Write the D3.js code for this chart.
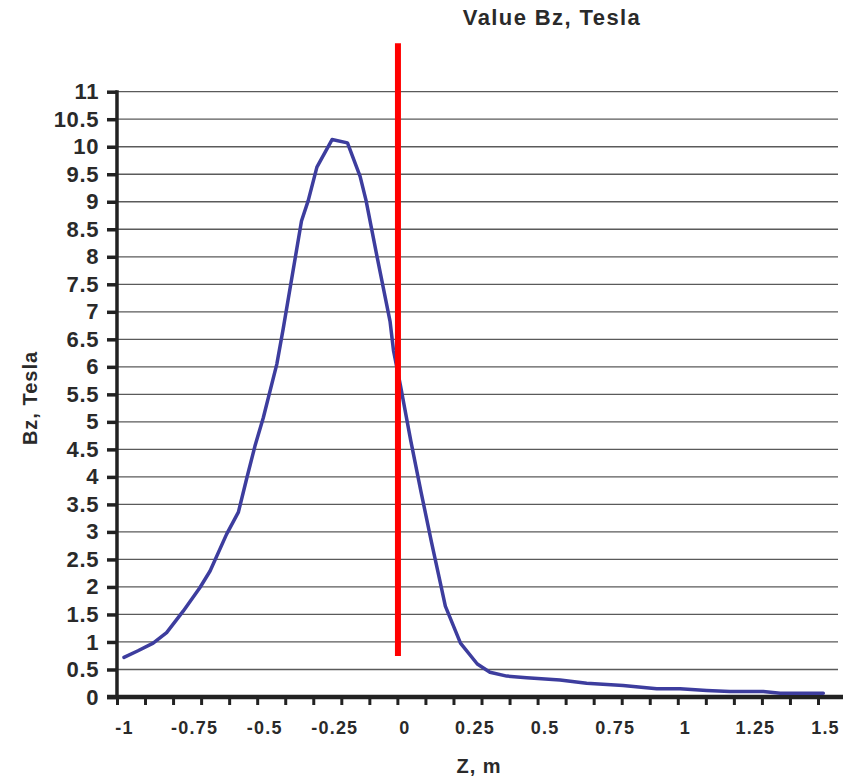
<!DOCTYPE html>
<html>
<head>
<meta charset="utf-8">
<script src="https://cdn.jsdelivr.net/npm/d3@7"></script>
<style>
  html, body { margin: 0; padding: 0; background: #fff; }
  svg { display: block; font-family: "Liberation Sans", Arial, sans-serif; }
</style>
</head>
<body>
<svg id="chart" width="843" height="779"></svg>
<script>
// ---- data ----
const zValues = [-1.0, -0.95, -0.896, -0.848, -0.789, -0.729, -0.693, -0.634, -0.592, -0.562,
  -0.533, -0.503, -0.455, -0.432, -0.367, -0.343, -0.312, -0.258, -0.203, -0.158,
  -0.137, -0.099, -0.051, -0.039, -0.014, 0.023, 0.06, 0.096, 0.127, 0.146,
  0.2, 0.26, 0.305, 0.365, 0.436, 0.555, 0.65, 0.78, 0.9, 0.983,
  1.078, 1.161, 1.28, 1.34, 1.494];
const bzValues = [0.72, 0.84, 0.98, 1.17, 1.56, 1.99, 2.29, 2.96, 3.36, 3.98,
  4.56, 5.08, 6.05, 6.7, 8.65, 9.02, 9.63, 10.13, 10.07, 9.46,
  9.03, 8.04, 6.82, 6.3, 5.66, 4.65, 3.71, 2.83, 2.1, 1.65,
  0.98, 0.6, 0.45, 0.38, 0.35, 0.31, 0.25, 0.21, 0.15, 0.15,
  0.12, 0.10, 0.10, 0.07, 0.07];
const xTickLabels = [-1, -0.75, -0.5, -0.25, 0, 0.25, 0.5, 0.75, 1, 1.25, 1.5];
const xMinorTicks = d3.range(0, 26).map(k => -1.025 + k * 0.1);
const yTickLabels = d3.range(0, 23).map(k => k * 0.5);
const markerZ = -0.023;
const markerRange = [0.745, 11.88];
const titleText = "Value Bz, Tesla";
const xTitle = "Z, m";
const yTitle = "Bz, Tesla";

// ---- scales ----
const svg = d3.select("#chart");
const x = d3.scaleLinear().domain([-1, 1.5]).range([124, 825]);
const y = d3.scaleLinear().domain([0, 11]).range([697, 91.7]);
const axisX0 = x(-1.025);      // 117
const textColor = "#2a2a2a";

// gridlines
svg.append("g").selectAll("line")
  .data(yTickLabels.filter(v => v > 0))
  .join("line")
  .attr("x1", axisX0).attr("x2", 838)
  .attr("y1", d => y(d)).attr("y2", d => y(d))
  .attr("stroke", "#5a5a5a").attr("stroke-width", 1.3);

// y axis
const yAxis = svg.append("g")
  .attr("transform", `translate(${axisX0},0)`)
  .call(d3.axisLeft(y).tickValues(yTickLabels).tickSize(10).tickPadding(8)
        .tickFormat(d => String(d)));
yAxis.select(".domain").remove();
yAxis.selectAll(".tick line").attr("stroke", "#222").attr("stroke-width", 3.5);
yAxis.selectAll(".tick text")
  .attr("fill", textColor)
  .style("font-size", "22px").style("font-weight", "bold")
  .style("letter-spacing", "0.6px");
svg.append("line")
  .attr("x1", axisX0).attr("x2", axisX0)
  .attr("y1", y(11) - 1.5).attr("y2", y(0))
  .attr("stroke", "#222").attr("stroke-width", 3.5);

// x axis minor ticks
const xAxisTicks = svg.append("g")
  .attr("transform", `translate(0,${y(0)})`)
  .call(d3.axisBottom(x).tickValues(xMinorTicks).tickSize(8).tickFormat(""));
xAxisTicks.select(".domain").remove();
xAxisTicks.selectAll(".tick line").attr("stroke", "#222").attr("stroke-width", 3);

// x axis labels
const xAxisLabels = svg.append("g")
  .attr("transform", `translate(0,${y(0)})`)
  .call(d3.axisBottom(x).tickValues(xTickLabels).tickSize(0).tickPadding(24)
        .tickFormat(d => String(d)));
xAxisLabels.select(".domain").remove();
xAxisLabels.selectAll(".tick text")
  .attr("fill", textColor)
  .style("font-size", "18px").style("font-weight", "bold")
  .style("letter-spacing", "1.2px");

svg.append("line")
  .attr("x1", 107).attr("x2", 843)
  .attr("y1", y(0)).attr("y2", y(0))
  .attr("stroke", "#222").attr("stroke-width", 4.5);

// curve
const pts = zValues.map((z, i) => [z, bzValues[i]]);
svg.append("path")
  .datum(pts)
  .attr("fill", "none")
  .attr("stroke", "#3d3d9e")
  .attr("stroke-width", 3.5)
  .attr("stroke-linejoin", "round")
  .attr("stroke-linecap", "round")
  .attr("d", d3.line().x(d => x(d[0])).y(d => y(d[1])));

// red marker line
svg.append("line")
  .attr("x1", x(markerZ)).attr("x2", x(markerZ))
  .attr("y1", y(markerRange[1])).attr("y2", y(markerRange[0]))
  .attr("stroke", "#ff0000").attr("stroke-width", 6);

// titles
svg.append("text")
  .attr("x", 552).attr("y", 25)
  .attr("text-anchor", "middle")
  .attr("fill", textColor)
  .style("font-size", "22px").style("font-weight", "bold")
  .style("letter-spacing", "1.4px")
  .text(titleText);

svg.append("text")
  .attr("x", 479).attr("y", 773)
  .attr("text-anchor", "middle")
  .attr("fill", textColor)
  .style("font-size", "20px").style("font-weight", "bold")
  .style("letter-spacing", "1px")
  .text(xTitle);

svg.append("text")
  .attr("transform", "translate(37,398) rotate(-90)")
  .attr("text-anchor", "middle")
  .attr("fill", textColor)
  .style("font-size", "20px").style("font-weight", "bold")
  .style("letter-spacing", "1px")
  .text(yTitle);
</script>
</body>
</html>
